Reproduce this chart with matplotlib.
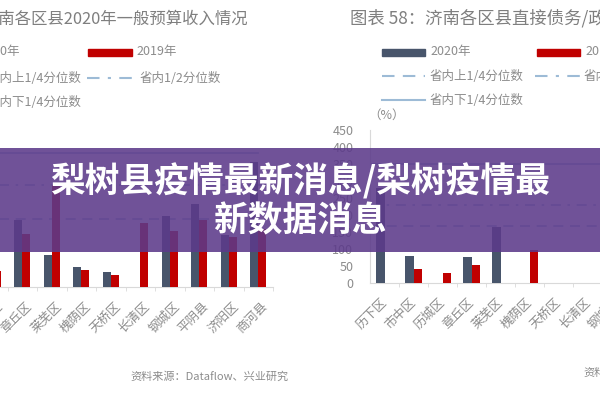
import matplotlib
matplotlib.use('Agg')
import matplotlib.pyplot as plt
import matplotlib.transforms as mtransforms
from matplotlib.patches import Rectangle
from matplotlib.lines import Line2D
import numpy as np

plt.rcParams['font.family'] = ['Noto Sans CJK SC', 'DejaVu Sans']

# ---------------- data ----------------
left_cats = ['历城区', '章丘区', '莱芜区', '槐荫区', '天桥区', '长清区', '钢城区', '平阴县', '济阳区', '商河县']
left_2020 = [20, 67, 32, 20, 15, 0, 71, 83, 52, 125]
left_2019 = [16, 53, 102, 17, 12, 64, 56, 67, 50, 58]
left_q_dashed = 68
left_q_dashdot = 102
left_q_solid = 134

right_cats = ['历下区', '市中区', '历城区', '章丘区', '莱芜区', '槐荫区', '天桥区', '长清区', '钢城区']
right_2020 = [279, 79, 0, 76, 165, 0, 0, 0, 0]
right_2019 = [0, 41, 29, 53, 0, 97, 0, 0, 0]
right_q_dashed = 168
right_q_dashdot = 229
right_q_solid = 350
right_yticks = [0, 50, 100, 150, 200, 250, 300, 350, 400, 450]

DARK = '#48556b'
RED = '#c00000'
QLINE = '#9dbbd6'
GRAY = '#8c8c8c'
AXIS = '#d9d9d9'

W, H = 600, 400
fig = plt.figure(figsize=(6, 4), dpi=100)
fig.patch.set_facecolor('white')


def X(px):
    return px / W


def Y(py):
    return 1 - py / H


def style_axes(ax):
    for s in ['top', 'right', 'left']:
        ax.spines[s].set_visible(False)
    ax.spines['bottom'].set_color(AXIS)
    ax.set_facecolor('none')


bw = 0.276

# ---------------- left chart ----------------
axL = fig.add_axes([X(-22), Y(287), 295 / W, 140 / H])
style_axes(axL)
xl = np.arange(len(left_cats))
axL.bar(xl - bw / 2, left_2020, bw, color=DARK, zorder=3)
axL.bar(xl + bw / 2, left_2019, bw, color=RED, zorder=3)
axL.axhline(left_q_dashed, color=QLINE, lw=1.2, ls=(0, (6, 4)), zorder=2)
axL.axhline(left_q_dashdot, color=QLINE, lw=1.2, ls=(0, (6, 4, 1.5, 4)), zorder=2)
axL.axhline(left_q_solid, color=QLINE, lw=1.2, xmax=0.95, zorder=2)
axL.set_xlim(-0.5, len(left_cats) - 0.5)
axL.set_ylim(0, 140)
axL.set_yticks([])
axL.set_xticks(xl)
axL.set_xticklabels(left_cats, rotation=45, ha='right', rotation_mode='anchor',
                    fontsize=9, color=GRAY)
axL.set_xticks(np.arange(len(left_cats)) + 0.5, minor=True)
axL.tick_params(axis='x', which='major', length=0, pad=9)
axL.tick_params(axis='x', which='minor', length=3, color=AXIS)
shiftL = mtransforms.ScaledTranslation(3 / 100, 0, fig.dpi_scale_trans)
for lab in axL.get_xticklabels():
    lab.set_transform(lab.get_transform() + shiftL)

# ---------------- right chart ----------------
axR = fig.add_axes([X(370), Y(283), 261 / W, 153 / H])
style_axes(axR)
axR.spines['left'].set_visible(True)
axR.spines['left'].set_color(AXIS)
xr = np.arange(len(right_cats))
axR.bar(xr - bw / 2, right_2020, bw, color=DARK, zorder=3)
axR.bar(xr + bw / 2, right_2019, bw, color=RED, zorder=3)
axR.axhline(right_q_dashed, color=QLINE, lw=1.2, ls=(0, (6, 4)), zorder=2)
axR.axhline(right_q_dashdot, color=QLINE, lw=1.2, ls=(0, (6, 4, 1.5, 4)), zorder=2)
axR.axhline(right_q_solid, color=QLINE, lw=1.2, zorder=2)
axR.set_xlim(-0.5, len(right_cats) - 0.5)
axR.set_ylim(0, 450)
axR.set_yticks(right_yticks)
axR.tick_params(axis='y', length=0, pad=12, labelsize=9, labelcolor=GRAY)
axR.set_xticks(xr)
axR.set_xticklabels(right_cats, rotation=45, ha='right', rotation_mode='anchor',
                    fontsize=9, color=GRAY)
axR.set_xticks(np.arange(len(right_cats)) + 0.5, minor=True)
axR.tick_params(axis='x', which='major', length=0, pad=9)
axR.tick_params(axis='x', which='minor', length=3, color=AXIS)
shift = mtransforms.ScaledTranslation(-4 / 100, 0, fig.dpi_scale_trans)
for lab in axR.get_xticklabels():
    lab.set_transform(lab.get_transform() + shift)
fig.text(X(368), Y(115), '（%）', fontsize=9, color=GRAY, ha='left', va='center')

# ---------------- titles ----------------
fig.text(X(248), Y(19), '图表 57：济南各区县2020年一般预算收入情况', fontsize=11.8,
         color='#7f7f7f', ha='right', va='center')
fig.text(X(350), Y(18), '图表 58：济南各区县直接债务/政府性基金收入', fontsize=12.5,
         color='#7f7f7f', ha='left', va='center')

# ---------------- legends ----------------
TXT = dict(fontsize=9, color=GRAY, va='center')


def rect(x0, x1, y, c):
    fig.patches.append(Rectangle((X(x0), Y(y + 3.5)), (x1 - x0) / W, 7 / H,
                                 transform=fig.transFigure, color=c))


def seg(x0, x1, y, ls):
    fig.lines.append(Line2D([X(x0), X(x1)], [Y(y), Y(y)], transform=fig.transFigure,
                            color=QLINE, lw=1.5, ls=ls))


# left legend (partially cut)
rect(-65, -22, 52, DARK)
fig.text(X(20), Y(52), '2020年', ha='right', **TXT)
rect(88, 132, 52, RED)
fig.text(X(136), Y(52), '2019年', ha='left', **TXT)
seg(-65, -22, 78, (0, (6, 4)))
fig.text(X(81), Y(78), '省内上1/4分位数', ha='right', **TXT)
seg(87, 135, 78, (0, (6, 4, 1.5, 4)))
fig.text(X(140), Y(78), '省内1/2分位数', ha='left', **TXT)
seg(-65, -22, 103, '-')
fig.text(X(81), Y(103), '省内下1/4分位数', ha='right', **TXT)

# right legend
rect(382, 425, 52, DARK)
fig.text(X(430), Y(52), '2020年', ha='left', **TXT)
rect(537, 580, 52, RED)
fig.text(X(585), Y(52), '2019年', ha='left', **TXT)
seg(382, 425, 76, (0, (6, 4)))
fig.text(X(430), Y(76), '省内上1/4分位数', ha='left', **TXT)
seg(535, 580, 76, (0, (6, 4, 1.5, 4)))
fig.text(X(584), Y(76), '省内1/2分位数', ha='left', **TXT)
seg(382, 425, 100, '-')
fig.text(X(430), Y(100), '省内下1/4分位数', ha='left', **TXT)

# ---------------- sources ----------------
fig.text(X(130), Y(377), '资料来源：Dataflow、兴业研究', fontsize=8, color=GRAY,
         ha='left', va='center')
fig.text(X(583), Y(373), '资料来源：Dataflow、兴业研究', fontsize=8, color=GRAY,
         ha='left', va='center')

# ---------------- banner ----------------
banner = Rectangle((0, Y(252)), 1, (252 - 148) / H, transform=fig.transFigure,
                   facecolor='#5c3a8a', edgecolor='none', alpha=0.88, zorder=10)
fig.patches.append(banner)
fig.text(0.5, Y(181), '梨树县疫情最新消息/梨树疫情最', fontsize=25, color='white',
         fontweight='heavy', ha='center', va='center', zorder=11)
fig.text(0.5, Y(221), '新数据消息', fontsize=25, color='white',
         fontweight='heavy', ha='center', va='center', zorder=11)

fig.savefig('out.png', dpi=100, facecolor='white')
